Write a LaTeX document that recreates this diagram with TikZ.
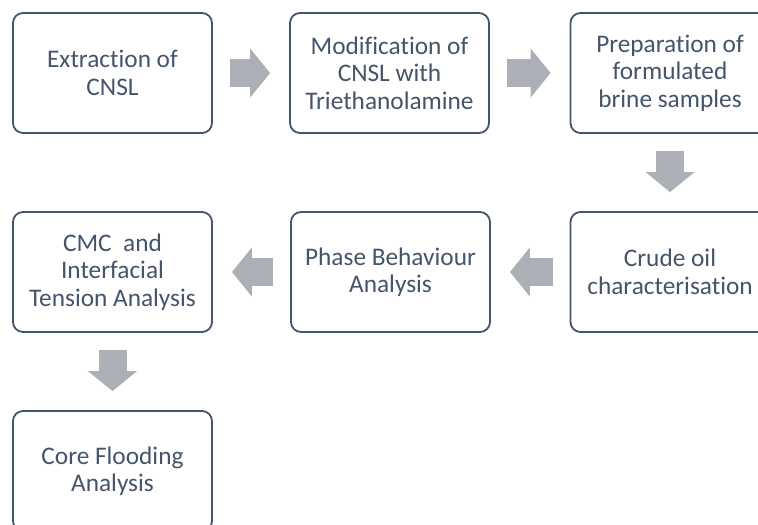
\documentclass[tikz,border=0pt]{standalone}
\usepackage{fontspec}
\setmainfont{Carlito}[Ligatures={NoCommon}]
\usetikzlibrary{arrows.meta}
\definecolor{slate}{RGB}{68,84,106}
\definecolor{arrowgray}{RGB}{172,175,182}
\tikzset{
  stepbox/.style={draw=slate, text=slate, line width=1.8bp, rounded corners=10bp,
    minimum width=199bp, minimum height=120bp, align=center,
    font=\fontsize{25.4}{27.5}\selectfont},
  blockarrow/.style={draw=arrowgray, line width=28bp,
    -{Triangle[length=20bp, width=48bp]}, shorten <=17bp, shorten >=19bp}
}
\begin{document}
\begin{tikzpicture}[x=1bp, y=-1bp]
    \clip (0,0) rectangle (758,525);
    %  1 extraction, 2 modification, 3 brine, 4 crude oil, 5 phase, 6 CMC/IFT, 7 core flooding
    \foreach \p/\t [count=\i from 1] in {
      {(112.5,73)}/{Extraction of\\CNSL},
      {(389.5,73)}/{Modification of\\CNSL with\\Triethanolamine},
      {(670,73)}/{Preparation of\\formulated\\brine samples},
      {(670,272)}/{Crude oil\\characterisation},
      {(390.5,272)}/{Phase Behaviour\\Analysis},
      {(112.5,272)}/{CMC\ \ and\\Interfacial\\Tension Analysis},
      {(112.5,471)}/{Core Flooding\\Analysis}}
      {\node[stepbox] (s\i) at \p {\t};}
    \foreach \a/\b in {1/2,2/3,3/4,4/5,5/6,6/7} {\draw[blockarrow] (s\a) -- (s\b);}
\end{tikzpicture}
\end{document}
